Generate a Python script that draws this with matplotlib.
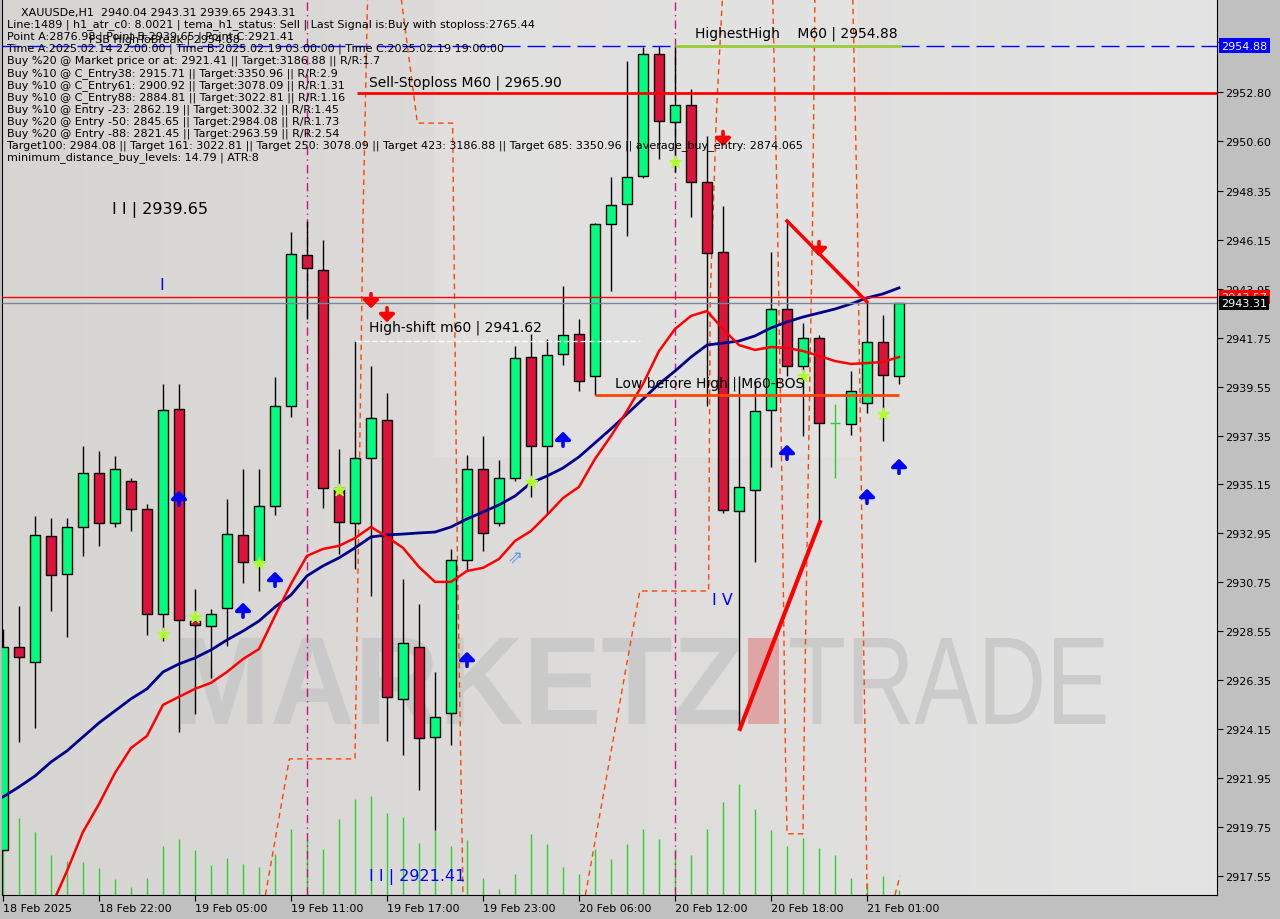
import numpy as np
import matplotlib.pyplot as plt
from matplotlib.patches import Rectangle, PathPatch
from matplotlib.textpath import TextPath
from matplotlib.font_manager import FontProperties
from matplotlib.transforms import Affine2D
from matplotlib.colors import LinearSegmentedColormap

# XAUUSDe H1 bars, 18 Feb 16:00 .. 21 Feb 03:00
opens = [2918.72, 2927.84, 2927.17, 2932.83, 2931.13, 2933.24, 2935.67, 2933.42, 2935.31, 2934.05,
         2929.33, 2938.55, 2929.01, 2928.79, 2929.60, 2932.88, 2931.67, 2934.18, 2938.68, 2945.47,
         2944.80, 2934.99, 2933.42, 2936.34, 2938.05, 2925.51, 2927.84, 2923.80, 2924.88, 2931.76,
         2935.85, 2933.42, 2935.44, 2940.88, 2936.88, 2941.02, 2941.92, 2940.03, 2946.86, 2947.76,
         2949.02, 2954.51, 2951.45, 2952.21, 2948.75, 2945.60, 2933.96, 2934.90, 2938.50, 2943.04,
         2940.48, 2941.74, 2937.92, 2937.87, 2938.82, 2941.56, 2940.04]
highs = [2928.65, 2929.69, 2933.73, 2933.64, 2933.64, 2936.88, 2936.66, 2936.43, 2935.44, 2934.27,
         2939.67, 2939.67, 2930.45, 2929.55, 2934.50, 2935.85, 2935.85, 2939.98, 2946.50, 2947.00,
         2946.14, 2936.75, 2941.60, 2940.48, 2939.26, 2930.90, 2929.78, 2926.72, 2932.25, 2936.48,
         2937.33, 2936.25, 2941.38, 2941.92, 2941.69, 2944.08, 2942.59, 2946.91, 2948.98, 2954.19,
         2954.82, 2954.87, 2954.87, 2952.93, 2950.82, 2947.67, 2940.03, 2939.76, 2945.60, 2947.00,
         2942.41, 2941.87, 2938.77, 2940.25, 2943.31, 2942.77, 2943.31]
lows = [2918.67, 2923.57, 2924.20, 2929.46, 2928.29, 2931.94, 2932.39, 2933.24, 2933.06, 2928.38,
        2928.11, 2924.02, 2924.83, 2926.45, 2927.89, 2930.72, 2930.36, 2933.78, 2938.19, 2942.59,
        2934.09, 2932.03, 2931.35, 2930.14, 2923.62, 2922.99, 2921.41, 2919.62, 2923.44, 2931.26,
        2932.16, 2933.28, 2935.31, 2934.59, 2933.82, 2940.52, 2939.35, 2939.17, 2943.85, 2946.32,
        2948.93, 2949.79, 2949.20, 2947.18, 2938.68, 2933.87, 2924.16, 2931.67, 2935.94, 2940.03,
        2937.33, 2933.46, 2935.44, 2937.38, 2938.37, 2937.11, 2939.65]
closes = [2927.84, 2927.39, 2932.88, 2931.08, 2933.24, 2935.67, 2933.42, 2935.85, 2934.05, 2929.33,
          2938.50, 2929.06, 2928.83, 2929.33, 2932.92, 2931.67, 2934.18, 2938.68, 2945.51, 2944.89,
          2934.99, 2933.46, 2936.34, 2938.14, 2925.60, 2928.02, 2923.75, 2924.70, 2931.76, 2935.85,
          2932.97, 2935.44, 2940.84, 2936.88, 2940.97, 2941.87, 2939.80, 2946.86, 2947.72, 2948.98,
          2954.51, 2951.49, 2952.21, 2948.75, 2945.56, 2934.00, 2935.04, 2938.46, 2943.04, 2940.48,
          2941.74, 2937.92, 2937.92, 2939.35, 2941.56, 2940.07, 2943.31]
ma_slow = [2921.10, 2921.55, 2922.04, 2922.67, 2923.17, 2923.80, 2924.43, 2924.97, 2925.51, 2925.96,
           2926.72, 2927.08, 2927.35, 2927.71, 2928.16, 2928.56, 2929.01, 2929.64, 2930.18, 2931.04,
           2931.49, 2931.85, 2932.30, 2932.79, 2932.88, 2932.92, 2932.97, 2933.01, 2933.24, 2933.60,
           2933.91, 2934.23, 2934.63, 2935.22, 2935.53, 2935.89, 2936.39, 2937.02, 2937.65, 2938.32,
           2938.99, 2939.67, 2940.25, 2940.88, 2941.42, 2941.51, 2941.60, 2941.83, 2942.19, 2942.46,
           2942.68, 2942.86, 2943.04, 2943.27, 2943.54, 2943.72, 2943.99]
ma_fast = [2910.89, 2912.69, 2914.49, 2916.15, 2917.77, 2919.53, 2920.78, 2922.18, 2923.30, 2923.84,
           2925.24, 2925.60, 2925.96, 2926.23, 2926.72, 2927.30, 2927.75, 2929.24, 2930.68, 2931.94,
           2932.25, 2932.39, 2932.74, 2933.24, 2932.79, 2932.30, 2931.44, 2930.77, 2930.77, 2931.26,
           2931.40, 2931.80, 2932.61, 2933.06, 2933.78, 2934.54, 2935.04, 2936.30, 2937.33, 2938.46,
           2939.67, 2941.15, 2942.14, 2942.73, 2942.95, 2942.14, 2941.42, 2941.20, 2941.33, 2941.29,
           2941.15, 2940.93, 2940.70, 2940.57, 2940.61, 2940.66, 2940.88]
volumes = [60, 77, 63, 40, 34, 33, 27, 16, 8, 17, 49, 56, 45, 30, 37, 31, 28, 41, 66, 56,
           46, 76, 96, 99, 82, 78, 52, 65, 49, 55, 17, 6, 21, 61, 51, 28, 21, 46, 36, 51,
           66, 56, 46, 40, 66, 93, 111, 86, 65, 49, 57, 47, 40, 17, 12, 19, 5]
vol_scale = 896

time_ticks = [0, 6, 12, 18, 24, 30, 36, 42, 48, 54]
time_labels = ['18 Feb 2025', '18 Feb 22:00', '19 Feb 05:00', '19 Feb 11:00', '19 Feb 17:00',
               '19 Feb 23:00', '20 Feb 06:00', '20 Feb 12:00', '20 Feb 18:00', '21 Feb 01:00']
price_ticks = [2917.55, 2919.75, 2921.95, 2924.15, 2926.35, 2928.55, 2930.75, 2932.95, 2935.15,
               2937.35, 2939.55, 2941.75, 2943.95, 2946.15, 2948.35, 2950.60, 2952.80, 2955.05]

# stepped dashed channel lines (bar, price)
step_lines = [
    ([16.4, 17.9, 22.0, 22.2, 22.5, 22.8], [2916.69, 2922.81, 2922.81, 2931.80, 2947.09, 2957.5]),
    ([24.8, 25.9, 28.1, 28.4, 28.75], [2957.5, 2951.40, 2951.40, 2931.80, 2916.69]),
    ([36.4, 39.8, 44.1, 44.2, 44.6, 45.0], [2916.69, 2930.36, 2930.36, 2943.49, 2952.03, 2957.5]),
    ([48.1, 48.4, 48.7, 48.9, 49.0, 50.0, 50.1, 50.3, 50.6, 50.75],
     [2957.5, 2947.09, 2934.50, 2923.12, 2919.44, 2919.44, 2925.51, 2934.50, 2947.09, 2957.5]),
    ([53.1, 53.4, 53.7, 53.9, 54.0], [2957.5, 2947.09, 2932.25, 2922.81, 2916.69]),
    ([55.75, 56.06], [2916.69, 2917.55]),
]

buy_arrows_x = [11, 15, 17, 29, 35, 49, 54, 56]
buy_arrows_y = [2934.54, 2929.51, 2930.90, 2927.30, 2937.20, 2936.61, 2934.63, 2935.98]
sell_arrows_x = [23, 24, 45, 51]
sell_arrows_y = [2943.40, 2942.77, 2950.69, 2945.74]
star_x = [10, 12, 16, 21, 33, 42, 50, 55]
star_y = [2928.43, 2929.19, 2931.62, 2934.90, 2935.26, 2949.65, 2940.03, 2938.32]

info_lines = [
    'Line:1489 | h1_atr_c0: 8.0021 | tema_h1_status: Sell | Last Signal is:Buy with stoploss:2765.44',
    'Point A:2876.98 | Point B:2939.65 | Point C:2921.41',
    'Time A:2025.02.14 22:00:00 | Time B:2025.02.19 03:00:00 | Time C:2025.02.19 19:00:00',
    'Buy %20 @ Market price or at: 2921.41 || Target:3186.88 || R/R:1.7',
    'Buy %10 @ C_Entry38: 2915.71 || Target:3350.96 || R/R:2.9',
    'Buy %10 @ C_Entry61: 2900.92 || Target:3078.09 || R/R:1.31',
    'Buy %10 @ C_Entry88: 2884.81 || Target:3022.81 || R/R:1.16',
    'Buy %10 @ Entry -23: 2862.19 || Target:3002.32 || R/R:1.45',
    'Buy %20 @ Entry -50: 2845.65 || Target:2984.08 || R/R:1.73',
    'Buy %20 @ Entry -88: 2821.45 || Target:2963.59 || R/R:2.54',
    'Target100: 2984.08 || Target 161: 3022.81 || Target 250: 3078.09 || Target 423: 3186.88 || Target 685: 3350.96 || average_buy_entry: 2874.065',
    'minimum_distance_buy_levels: 14.79 | ATR:8',
]

fig = plt.figure(figsize=(12.8, 9.2), dpi=100, facecolor='#c0c0c0')
ax = fig.add_axes([2/1280, 24/920, 1215/1280, 896/920])
x0, x1, y0, y1 = -0.0625, 75.875, 2916.69, 2956.98

bg = LinearSegmentedColormap.from_list('bg', ['#d7d5d2', '#e4e4e4'])
ax.imshow(np.linspace(0, 1, 256).reshape(1, -1), extent=[x0, x1, y0, y1], aspect='auto', cmap=bg, zorder=0)
ax.add_patch(Rectangle((27, 2936.4), 26.4, 21, facecolor='#e8e8e8', alpha=0.4, edgecolor='none', zorder=0.2))

# watermark text fitted into a box (data coords)
def watermark(word, weight, left, right, base, top):
    path = TextPath((0, 0), word, size=100, prop=FontProperties(family='Liberation Sans', weight=weight))
    ext = path.get_extents()
    tr = (Affine2D().translate(-ext.x0, 0)
          .scale((right - left) / ext.width, (top - base) / ext.y1)
          .translate(left, base))
    ax.add_patch(PathPatch(tr.transform_path(path), facecolor='#c6c6c6', edgecolor='none',
                           alpha=0.8, zorder=0.5))

watermark('MARKETZ', 'bold', 11.1, 46.1, 2924.38, 2928.25)
ax.add_patch(Rectangle((46.56, 2924.38), 1.94, 3.87, facecolor='#dda5a5', edgecolor='none', zorder=0.5))
watermark('TRADE', 'normal', 49.2, 68.9, 2924.38, 2928.25)

bars = np.arange(len(opens))
ax.vlines(bars, 0, np.array(volumes) / vol_scale, transform=ax.get_xaxis_transform(),
          color='#32cd32', lw=1, zorder=1)

for xs, ys in step_lines:
    ax.plot(xs, ys, color='#ff4500', lw=1, ls=(0, (4, 3)), zorder=2)
for b in [19, 42]:
    ax.axvline(b, color='#c71585', lw=1, ls=(0, (6, 3, 1, 3)), zorder=2)

for i in bars:
    o, h, l, c = opens[i], highs[i], lows[i], closes[i]
    if o == c:
        ax.vlines(i, l, h, color='#32cd32', lw=1, zorder=3)
        ax.hlines(c, i - 0.3, i + 0.3, color='#32cd32', lw=1, zorder=3)
        continue
    ax.vlines(i, l, h, color='black', lw=1, zorder=3)
    fc = '#00ff7f' if c > o else '#dc143c'
    ax.add_patch(Rectangle((i - 0.29, min(o, c)), 0.58, abs(c - o), facecolor=fc,
                           edgecolor='black', lw=1, zorder=3.1))

ax.plot(bars, ma_slow, color='#00008b', lw=2, zorder=4)
ax.plot(bars, ma_fast, color='#ff0000', lw=1.8, zorder=4)

# horizontal levels
ax.hlines(2954.88, x0, 42, color='#0000ff', lw=1, ls=(0, (13, 5)), zorder=4)
ax.hlines(2954.88, 56.1, x1, color='#0000ff', lw=1, ls=(0, (13, 5)), zorder=4)
ax.hlines(2954.88, 42, 56.1, color='#9acd32', lw=2, zorder=4)
ax.hlines(2952.75, 22.1, x1, color='#ff0000', lw=2, zorder=4)
ax.hlines(2943.57, x0, x1, color='#ff0000', lw=1, zorder=4)
ax.hlines(2943.31, x0, x1, color='#778899', lw=1, zorder=4)
ax.hlines(2941.62, 22.0, 39.8, color='white', lw=1, ls=(0, (4, 2)), zorder=4)
ax.hlines(2939.17, 37, 56, color='#ff4500', lw=2, zorder=4)
ax.plot([46.06, 51.06], [2924.16, 2933.46], color='#ff0000', lw=3, zorder=5)
ax.plot([49.0, 54.0], [2947.00, 2943.36], color='#ff0000', lw=2.5, zorder=5)

arrow_style = dict(arrowstyle='-|>,head_width=0.45,head_length=0.45', lw=2.6, shrinkA=0, shrinkB=0)
for bx, py in zip(buy_arrows_x, buy_arrows_y):
    ax.annotate('', xy=(bx, py + 0.33), xytext=(bx, py - 0.33), zorder=6,
                arrowprops=dict(color='#0000ff', **arrow_style))
for bx, py in zip(sell_arrows_x, sell_arrows_y):
    ax.annotate('', xy=(bx, py - 0.33), xytext=(bx, py + 0.33), zorder=6,
                arrowprops=dict(color='#ff0000', **arrow_style))
ax.text(32, 2931.89, '\u21d7', fontsize=13, color='#6495ed', ha='center', va='center', zorder=6)
ax.scatter(star_x, star_y, marker='*', s=80, color='#adff2f', zorder=6)

# object labels
ax.text(6.8, 2947.54, 'I I | 2939.65', fontsize=11.5, color='black', va='center', zorder=6)
ax.text(9.8, 2944.12, 'I', fontsize=11.5, color='#0000ff', va='center', zorder=6)
ax.text(22.9, 2917.55, 'I I | 2921.41', fontsize=11.5, color='#0000ff', va='center', zorder=6)
ax.text(44.3, 2929.96, 'I V', fontsize=11.5, color='#0000ff', va='center', zorder=6)
ax.text(43.25, 2955.45, 'HighestHigh    M60 | 2954.88', fontsize=10, color='black', va='center', zorder=6)
ax.text(22.9, 2953.25, 'Sell-Stoploss M60 | 2965.90', fontsize=10, color='black', va='center', zorder=6)
ax.text(22.9, 2942.23, 'High-shift m60 | 2941.62', fontsize=10, color='black', va='center', zorder=6)
ax.text(38.25, 2939.71, 'Low before High | M60-BOS', fontsize=10, color='black', va='center', zorder=6)

fig.text(21/1280, 1 - 13/920, 'XAUUSDe,H1  2940.04 2943.31 2939.65 2943.31', fontsize=8, va='center')
for k, line in enumerate(info_lines):
    fig.text(7/1280, 1 - (25 + 12.05*k)/920, line, fontsize=8, va='center')
fig.text(89/1280, 1 - 40/920, 'FSB HighToBreak | 2954.88', fontsize=8, va='center')

ax.set_xlim(x0, x1)
ax.set_ylim(y0, y1)
ax.yaxis.tick_right()
ax.set_yticks(price_ticks)
ax.set_yticklabels(['%.2f' % p for p in price_ticks])
ax.set_xticks(time_ticks)
ax.set_xticklabels(time_labels, ha='left')
ax.tick_params(axis='both', direction='out', length=4, labelsize=8, colors='black', pad=2)
for side in ['left', 'bottom', 'right']:
    ax.spines[side].set_color('black')
ax.spines['top'].set_visible(False)

def axis_box(price, label, fc):
    ax.text(1.0035, price, label, transform=ax.get_yaxis_transform(), ha='left', va='center',
            fontsize=8, color='white', zorder=20, clip_on=False,
            bbox=dict(boxstyle='square,pad=0.2', fc=fc, ec='none'))

axis_box(2954.88, '2954.88', '#0000ff')
axis_box(2943.57, '2943.57', '#ff0000')
axis_box(2943.31, '2943.31', '#000000')

fig.savefig('out.png', dpi=100, facecolor=fig.get_facecolor())
